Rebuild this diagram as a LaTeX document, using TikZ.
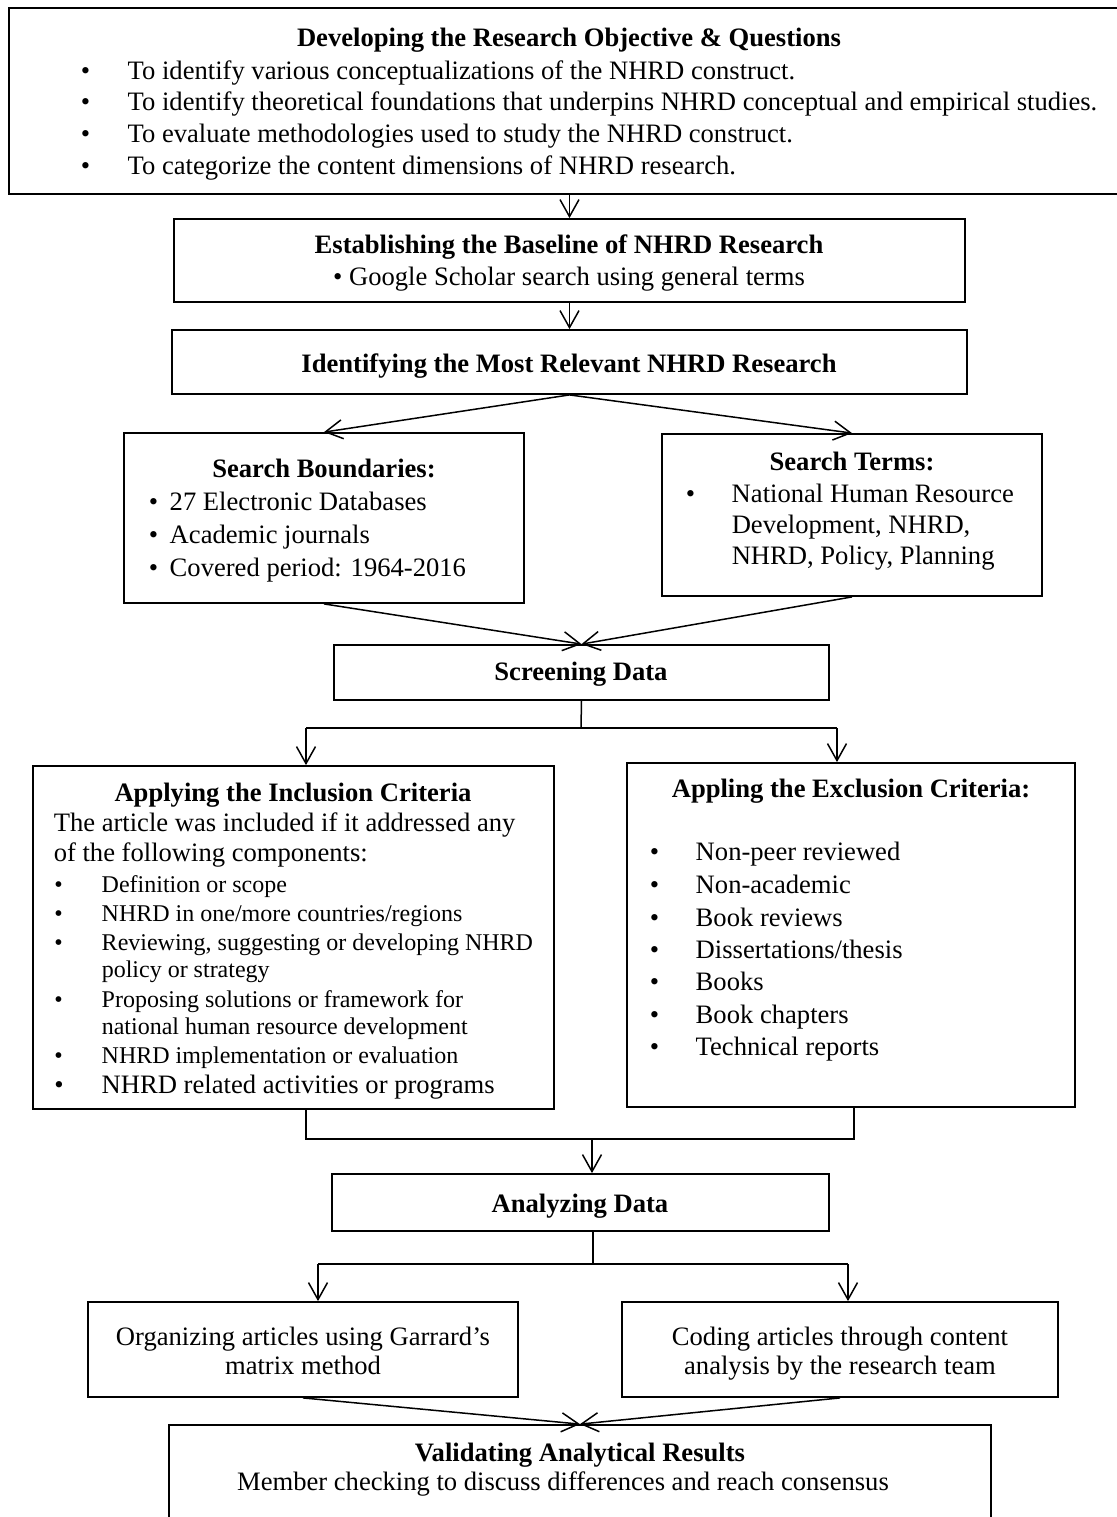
\documentclass[tikz,border=0pt]{standalone}
\usepackage{fontspec}
\setmainfont{Liberation Serif}
\usepackage{tikz}
\usetikzlibrary{arrows.meta}
\usetikzlibrary{calc}

\newcommand{\bul}[1]{\makebox[#1][l]{\textbullet}}

\tikzset{
    box/.style={draw, line width=0.9pt, inner sep=0pt},
    txt/.style={font=\fontsize{13.3pt}{16pt}\selectfont, inner sep=0pt, anchor=base west},
    sml/.style={font=\fontsize{12pt}{14pt}\selectfont, inner sep=0pt, anchor=base west},
    mid/.style={font=\fontsize{13.3pt}{16pt}\selectfont, inner sep=0pt, anchor=base},
    ttl/.style={font=\fontsize{13.3pt}{16pt}\selectfont\bfseries, inner sep=0pt, anchor=base},
}

\begin{document}
\begin{tikzpicture}[x=0.5pt, y=-0.5pt, line width=0.75pt, >={Straight Barb[length=8.5pt,width=9.5pt]}]
    % page is 1117 x 1517, one unit = one pixel
    \fill [white] (0,0) rectangle (1117,1517);
    \useasboundingbox (0,0) rectangle (1117,1517);
    \clip (0,0) rectangle (1117,1517);

    % the boxes
    \node [box, minimum width=559pt, minimum height=93pt] (Obj) at (568,101) {};
    \node [box, minimum width=395.5pt, minimum height=41.5pt] (Base) at (569.5,260.5) {};
    \node [box, minimum width=397.5pt, minimum height=32pt] (Ident) at (569.5,362) {};
    \node [box, minimum width=200pt, minimum height=85pt] (Bound) at (324,518) {};
    \node [box, minimum width=190pt, minimum height=81pt] (Terms) at (852,515) {};
    \node [box, minimum width=247.5pt, minimum height=27.5pt] (Screen) at (581.5,672.5) {};
    \node [box, minimum width=260.5pt, minimum height=171.5pt] (Incl) at (293.5,937.5) {};
    \node [box, minimum width=224pt, minimum height=172pt] (Excl) at (851,935) {};
    \node [box, minimum width=248.5pt, minimum height=28.5pt] (Anal) at (580.5,1202.5) {};
    \node [box, minimum width=215pt, minimum height=47.5pt] (Org) at (303,1349.5) {};
    \node [box, minimum width=218pt, minimum height=47.5pt] (Code) at (840,1349.5) {};
    \node [box, minimum width=411pt, minimum height=60pt] (Valid) at (580,1485) {};

    % objective box
    \node [ttl] (Obj_t) at (569,46) {Developing the Research Objective \& Questions};
    \node [txt] (Obj_1) at (80,79) {\bul{23.5pt}To identify various conceptualizations of the NHRD construct.};
    \node [txt] (Obj_2) at (80,110) {\bul{23.5pt}To identify theoretical foundations that underpins NHRD conceptual and empirical studies.};
    \node [txt] (Obj_3) at (80,142) {\bul{23.5pt}To evaluate methodologies used to study the NHRD construct.};
    \node [txt] (Obj_4) at (80,174) {\bul{23.5pt}To categorize the content dimensions of NHRD research.};

    % baseline + relevant research
    \node [ttl] (Base_t) at (569,253) {Establishing the Baseline of NHRD Research};
    \node [mid] (Base_1) at (569,285) {\textbullet{} Google Scholar search using general terms};
    \node [ttl] (Ident_t) at (569,372) {Identifying the Most Relevant NHRD Research};

    % boundaries and terms
    \node [ttl] (Bound_t) at (324,477) {Search Boundaries:};
    \node [txt] (Bound_1) at (148,510) {\bul{10.5pt}27 Electronic Databases};
    \node [txt] (Bound_2) at (148,543) {\bul{10.5pt}Academic journals};
    \node [txt] (Bound_3) at (148,576) {\bul{10.5pt}Covered period: 1964-2016};

    \node [ttl] (Terms_t) at (852,470) {Search Terms:};
    \node [txt] (Terms_1) at (685,502) {\bul{23pt}National Human Resource};
    \node [txt] (Terms_2) at (731,533) {Development, NHRD,};
    \node [txt] (Terms_3) at (731,564) {NHRD, Policy, Planning};

    \node [ttl] (Screen_t) at (581,680) {Screening Data};

    % inclusion, body is a bit smaller here
    \node [ttl] (Incl_t) at (293,801) {Applying the Inclusion Criteria};
    \node [txt] (Incl_a) at (53,831) {The article was included if it addressed any};
    \node [txt] (Incl_b) at (53,861) {of the following components:};
    \node [sml] (Incl_1) at (53.5,892) {\bul{23.75pt}Definition or scope};
    \node [sml] (Incl_2) at (53.5,921) {\bul{23.75pt}NHRD in one/more countries/regions};
    \node [sml] (Incl_3) at (53.5,950) {\bul{23.75pt}Reviewing, suggesting or developing NHRD};
    \node [sml] (Incl_3b) at (101,977) {policy or strategy};
    \node [sml] (Incl_4) at (53.5,1007) {\bul{23.75pt}Proposing solutions or framework for};
    \node [sml] (Incl_4b) at (101,1034) {national human resource development};
    \node [sml] (Incl_5) at (53.5,1063) {\bul{23.75pt}NHRD implementation or evaluation};
    \node [txt] (Incl_6) at (53.5,1093) {\bul{23.75pt}NHRD related activities or programs};

    % exclusion
    \node [ttl] (Excl_t) at (851,797) {Appling the Exclusion Criteria:};
    \node [txt] (Excl_1) at (649,860) {\bul{23pt}Non-peer reviewed};
    \node [txt] (Excl_2) at (649,893) {\bul{23pt}Non-academic};
    \node [txt] (Excl_3) at (649,926) {\bul{23pt}Book reviews};
    \node [txt] (Excl_4) at (649,958) {\bul{23pt}Dissertations/thesis};
    \node [txt] (Excl_5) at (649,990) {\bul{23pt}Books};
    \node [txt] (Excl_6) at (649,1023) {\bul{23pt}Book chapters};
    \node [txt] (Excl_7) at (649,1055) {\bul{23pt}Technical reports};

    % analysis part
    \node [ttl] (Anal_t) at (580,1212) {Analyzing Data};
    \node [mid] (Org_1) at (303,1345) {Organizing articles using Garrard’s};
    \node [mid] (Org_2) at (303,1374) {matrix method};
    \node [mid] (Code_1) at (840,1345) {Coding articles through content};
    \node [mid] (Code_2) at (840,1374) {analysis by the research team};
    \node [ttl] (Valid_t) at (580,1461) {Validating Analytical Results};
    \node [mid] (Valid_1) at (563,1490) {Member checking to discuss differences and reach consensus};

    % split and join points
    \coordinate (Split_1) at (581,728);
    \coordinate (Split_1L) at (306,728);
    \coordinate (Split_1R) at (837,728);
    \coordinate (Join_L) at (306,1139);
    \coordinate (Join_R) at (854,1139);
    \coordinate (Join_M) at (592,1139);
    \coordinate (Split_2) at (593,1264);
    \coordinate (Split_2L) at (318,1264);
    \coordinate (Split_2R) at (848,1264);

    % connectors
    \draw [->] (Base.north |- Obj.south) -- (Base.north);
    \draw [->] (Base) -- (Ident);
    \draw [->] (Ident.south) -- (Bound.north);
    \draw [->] (Ident.south) -- (Terms.north);
    \draw [->] (Bound.south) -- (Screen.north);
    \draw [->] (Terms.south) -- (Screen.north);

    \draw (Screen.south) -- (Split_1);
    \draw (Split_1L) -- (Split_1R);
    \draw [->] (Split_1L) -- (Split_1L |- Incl.north);
    \draw [->] (Split_1R) -- (Split_1R |- Excl.north);

    \draw (Join_L |- Incl.south) -- (Join_L) -- (Join_R) -- (Join_R |- Excl.south);
    \draw [->] (Join_M) -- (Join_M |- Anal.north);

    \draw (Split_2 |- Anal.south) -- (Split_2);
    \draw (Split_2L) -- (Split_2R);
    \draw [->] (Split_2L) -- (Split_2L |- Org.north);
    \draw [->] (Split_2R) -- (Split_2R |- Code.north);

    \draw [->] (Org.south) -- (Valid.north);
    \draw [->] (Code.south) -- (Valid.north);
\end{tikzpicture}
\end{document}
